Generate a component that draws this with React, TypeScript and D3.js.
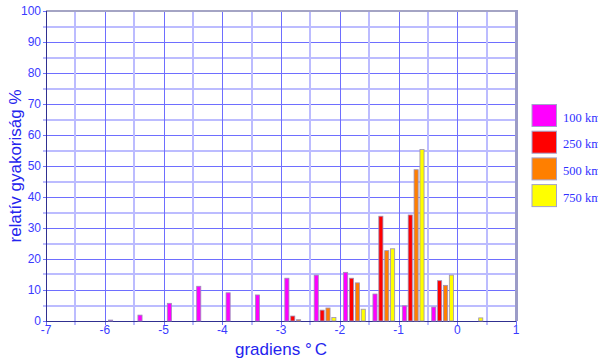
import React from 'react';
import * as d3 from 'd3';

// bin centres (°C) and relative frequency per distance class
const binCenters = [-5.75, -5.25, -4.75, -4.25, -3.75, -3.25, -2.75, -2.25, -1.75, -1.25, -0.75, -0.25, 0.25];
const km100 = [0.3, 1.9, 5.7, 11.2, 9.1, 8.4, 13.8, 14.8, 15.7, 8.7, 4.9, 4.5, 0];
const km250 = [0, 0, 0, 0, 0, 0, 1.6, 3.5, 13.8, 33.8, 34.2, 13.0, 0];
const km500 = [0, 0, 0, 0, 0, 0, 0.4, 4.2, 12.3, 22.7, 48.8, 11.5, 0];
const km750 = [0, 0, 0, 0, 0, 0, 0, 1.1, 3.8, 23.3, 55.3, 14.8, 1.0];

const seriesNames = ['100 km', '250 km', '500 km', '750 km'];
const seriesColors = ['#ff00ff', '#ff0000', '#ff7f00', '#ffff00'];
const xTicks = [-7, -6, -5, -4, -3, -2, -1, 0, 1];
const yTicks = [0, 10, 20, 30, 40, 50, 60, 70, 80, 90, 100];

const W = 598;
const H = 360;
const margin = { left: 46, right: 82, top: 11, bottom: 39 };

const tickColor = '#3a3aff';
const font = '"Liberation Sans", Arial, sans-serif';

const App = () => {
  const x = d3.scaleLinear().domain([-7, 1]).range([margin.left, W - margin.right]);
  const y = d3.scaleLinear().domain([0, 100]).range([H - margin.bottom, margin.top]);

  const allSeries = [km100, km250, km500, km750];
  const groupWidth = x(0.4) - x(0);
  const inner = d3.scaleBand<number>()
    .domain(d3.range(allSeries.length))
    .range([-groupWidth / 2, groupWidth / 2])
    .paddingInner(0.3)
    .paddingOuter(0.15);

  const halfSteps = d3.range(-7, 1.001, 0.5);
  const fiveSteps = d3.range(0, 100.001, 5);
  const x0 = x(-7);
  const x1 = x(1);
  const y0 = y(0);
  const y1 = y(100);

  return (
    <svg width={W} height={H} style={{ position: 'absolute', left: 0, top: 0, background: '#fff' }}>
      {/* grid */}
      <g>
        {fiveSteps.map(v => {
          const major = v % 10 === 0;
          const yy = Math.round(y(v)) + (major ? 0.5 : 0);
          return (
            <line key={'h' + v} x1={x0 - 3} x2={x1} y1={yy} y2={yy}
              stroke={major ? '#6e6eff' : '#bcbcff'} strokeWidth={major ? 1 : 2} />
          );
        })}
        {halfSteps.map(v => {
          const major = Number.isInteger(v);
          const xx = Math.round(x(v)) + (major ? 0.5 : 0);
          return (
            <line key={'v' + v} x1={xx} x2={xx} y1={y1} y2={y0 + 4}
              stroke={major ? '#6e6eff' : '#bcbcff'} strokeWidth={major ? 1 : 2} />
          );
        })}
      </g>

      {/* frame */}
      <line x1={x0} x2={x1 + 1} y1={y1} y2={y1} stroke="#a4a4c4" strokeWidth={2} />
      <line x1={x1 + 0.5} x2={x1 + 0.5} y1={y1 - 1} y2={y0} stroke="#9c9cc8" strokeWidth={3} />
      <line x1={Math.round(x0) + 0.5} x2={Math.round(x0) + 0.5} y1={y1} y2={y0} stroke="#303090" strokeWidth={1} />
      <line x1={x0} x2={x1} y1={Math.round(y0) + 0.5} y2={Math.round(y0) + 0.5} stroke="#303090" strokeWidth={1} />

      {/* bars */}
      {allSeries.map((vals, si) => (
        <g key={si} fill={seriesColors[si]} stroke="#9a8fb8" strokeWidth={0.8}>
          {vals.map((v, i) => v > 0 && (
            <rect key={i}
              x={x(binCenters[i]) + (inner(si) as number)}
              y={y(v)}
              width={inner.bandwidth()}
              height={y0 - y(v)} />
          ))}
        </g>
      ))}

      {/* tick labels */}
      <g fontFamily={font} fontSize={12} fill={tickColor}>
        {yTicks.map(v => (
          <text key={v} x={x0 - 5} y={y(v)} dy="0.35em" textAnchor="end">{v}</text>
        ))}
        {xTicks.map(v => (
          <text key={v} x={x(v)} y={y0 + 13} textAnchor="middle">{v}</text>
        ))}
      </g>

      {/* axis titles */}
      <text x={(x0 + x1) / 2} y={355} textAnchor="middle" fontFamily={font} fontSize={17} fill="#2424ee">
        gradiens °<tspan dx={3}>C</tspan>
      </text>
      <text transform={`translate(21,${(y0 + y1) / 2}) rotate(-90)`} textAnchor="middle"
        fontFamily={font} fontSize={17} fill="#2424ee">
        relatív gyakoriság %
      </text>

      {/* legend */}
      <g>
        {seriesNames.map((name, i) => (
          <g key={name} transform={`translate(532,${104.5 + i * 26.7})`}>
            <rect width={24.5} height={22} fill={seriesColors[i]} stroke="#a3a3cc" strokeWidth={1} />
            <text x={31} y={17} fontFamily='"Liberation Serif", "Times New Roman", serif' fontSize={12.5} fill="#3030ff">
              {name}
            </text>
          </g>
        ))}
      </g>
    </svg>
  );
};

export default App;
